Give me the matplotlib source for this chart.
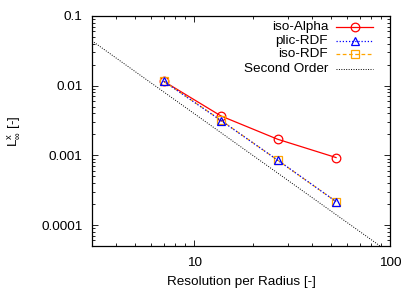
import matplotlib
matplotlib.use("Agg")
import matplotlib.pyplot as plt
from matplotlib.lines import Line2D
from matplotlib.ticker import LogLocator, FixedLocator, FixedFormatter, NullFormatter

plt.rcParams["font.family"] = ["Liberation Sans", "DejaVu Sans"]
plt.rcParams["mathtext.fontset"] = "custom"
plt.rcParams["mathtext.rm"] = "Liberation Sans"
plt.rcParams["mathtext.it"] = "Liberation Sans"

# resolution per radius
resolucao = [7.0, 13.7, 26.7, 53.0]
iso_alpha = [0.0115, 0.00367, 0.0017, 0.00093]
plic_rdf = [0.0115, 0.00315, 0.00085, 0.000217]
iso_rdf = [0.0115, 0.00318, 0.00085, 0.000217]
# reference slope line
ordem2_x = [3.0, 100.0]
ordem2_y = [0.044, 0.0000396]

y_ticks = [0.0001, 0.001, 0.01, 0.1]
y_labels = ["0.0001", "0.001", "0.01", "0.1"]

FS = 9.7

fig = plt.figure(figsize=(4.15, 2.91), dpi=100)
ax = fig.add_axes([92 / 415, 45 / 291, 298 / 415, 230 / 291])

series = [
    ("iso-Alpha", iso_alpha, dict(color="#ff0000", linestyle="-", marker="o", ms=6.2, zorder=3)),
    ("plic-RDF", plic_rdf, dict(color="#0000ff", linestyle=(0, (1, 1.5)), marker="^", ms=5.2, zorder=5)),
    ("iso-RDF", iso_rdf, dict(color="#ffa500", linestyle=(0, (3, 2)), marker="s", ms=5.5, zorder=4)),
]

for nome, valores, estilo in series:
    ax.plot(resolucao, valores, linewidth=0.9, markersize=estilo["ms"],
            markerfacecolor="none", markeredgewidth=0.9, color=estilo["color"],
            linestyle=estilo["linestyle"], marker=estilo["marker"], zorder=estilo["zorder"])
ax.plot(ordem2_x, ordem2_y, color="black", linestyle=(0, (1, 1.5)), linewidth=0.7, zorder=2)

ax.set_xscale("log")
ax.set_yscale("log")
ax.set_xlim(3.0, 100.0)
ax.set_ylim(5e-5, 0.1)

ax.yaxis.set_major_locator(FixedLocator(y_ticks))
ax.yaxis.set_major_formatter(FixedFormatter(y_labels))
ax.yaxis.set_minor_locator(LogLocator(base=10, subs=(2, 3, 4, 5, 6, 7, 8, 9), numticks=20))
ax.yaxis.set_minor_formatter(NullFormatter())
ax.xaxis.set_major_locator(FixedLocator([10, 100]))
ax.xaxis.set_major_formatter(FixedFormatter(["10", "100"]))
ax.xaxis.set_minor_locator(LogLocator(base=10, subs=(2, 3, 4, 5, 6, 7, 8, 9), numticks=20))
ax.xaxis.set_minor_formatter(NullFormatter())

ax.tick_params(which="both", direction="in", top=True, right=True, labelsize=FS, width=0.6)
ax.tick_params(axis="y", pad=7)
ax.tick_params(axis="x", pad=8)
ax.tick_params(which="major", length=4)
ax.tick_params(which="minor", length=2)
for s in ax.spines.values():
    s.set_linewidth(0.9)

ax.set_xlabel("Resolution per Radius [-]", fontsize=FS, labelpad=5)
ax.set_ylabel(r"L$_\infty^\mathrm{x}$ [-]", fontsize=FS, labelpad=13)

# legenda no estilo gnuplot: texto alinhado a direita, amostra depois
linhas_y = [0.952, 0.891, 0.833, 0.770]
legenda = series + [("Second Order", None, dict(color="black", linestyle=(0, (1, 1.5)), marker=None))]
for (nome, _, estilo), yy in zip(legenda, linhas_y):
    ax.text(0.792, yy, nome, transform=ax.transAxes, ha="right", va="center", fontsize=FS)
    ax.add_line(Line2D([0.819, 0.943], [yy, yy], transform=ax.transAxes,
                       color=estilo["color"], linestyle=estilo["linestyle"],
                       linewidth=0.9 if estilo["marker"] else 0.7))
    if estilo["marker"]:
        ax.add_line(Line2D([0.881], [yy], transform=ax.transAxes, color=estilo["color"],
                           marker=estilo["marker"], markersize=estilo["ms"],
                           markerfacecolor="none", markeredgewidth=0.9, linestyle="none"))

fig.savefig("out.png", dpi=100)
